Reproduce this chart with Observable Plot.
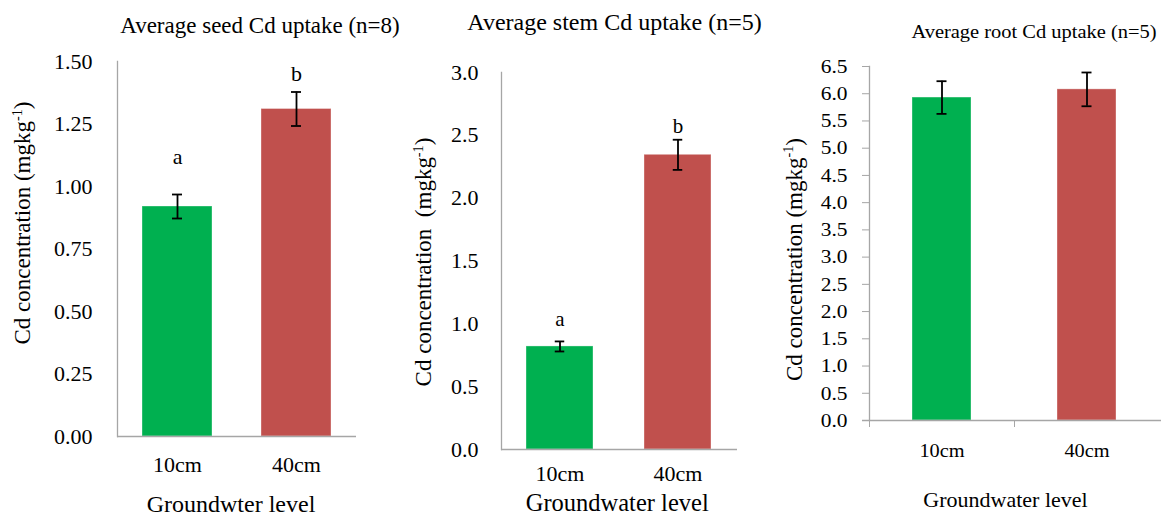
<!DOCTYPE html>
<html><head><meta charset="utf-8">
<script src="https://cdn.jsdelivr.net/npm/d3@7"></script>
<script src="https://cdn.jsdelivr.net/npm/@observablehq/plot@0.6"></script>
<style>
body{margin:0;background:#fff;width:1161px;height:515px;overflow:hidden;position:relative}
.panel{position:absolute;top:0}
.panel svg, .panel svg text{font-family:"Liberation Serif","Times New Roman",serif !important}
</style></head><body>
<div id="p1" class="panel" style="left:0px"></div>
<div id="p2" class="panel" style="left:400px"></div>
<div id="p3" class="panel" style="left:770px"></div>
<script>
const categories = ["10cm", "40cm"];
const barColors = ["#00B050", "#C0504D"];

const seedMean = [0.92, 1.31];
const seedErr = [0.048, 0.068];
const seedLetters = ["a", "b"];
const seedLetterY = [1.12, 1.45];
const seedTicks = [0, 0.25, 0.5, 0.75, 1.0, 1.25, 1.5];

const stemMean = [0.82, 2.345];
const stemErr = [0.04, 0.12];
const stemLetters = ["a", "b"];
const stemLetterY = [1.04, 2.57];
const stemTicks = [0, 0.5, 1.0, 1.5, 2.0, 2.5, 3.0];

const rootMean = [5.93, 6.08];
const rootErr = [0.30, 0.31];
const rootTicks = [0, 0.5, 1.0, 1.5, 2.0, 2.5, 3.0, 3.5, 4.0, 4.5, 5.0, 5.5, 6.0, 6.5];

const titles = ["Average seed Cd uptake (n=8)", "Average stem Cd uptake (n=5)", "Average root Cd uptake (n=5)"];
const yLabels = ["Cd concentration (mgkg\u207B\u00B9)", "Cd concentration \u00A0(mgkg\u207B\u00B9)", "Cd concentration (mgkg\u207B\u00B9)"];
const xLabels = ["Groundwter level", "Groundwater level", "Groundwater level"];

const AXIS = "#a6a6a6";
const FONT = "Liberation Serif";
const SUP = "\u207B\u00B9";

function panel(containerId, cfg) {
  const data = categories.map((c, i) => ({
    cat: c,
    mean: cfg.mean[i],
    lo: cfg.mean[i] - cfg.err[i],
    hi: cfg.mean[i] + cfg.err[i],
    letter: cfg.letters ? cfg.letters[i] : null,
    ly: cfg.letterY ? cfg.letterY[i] : null
  }));
  const marks = [
    Plot.barY(data, {x: "cat", y: "mean", fill: "cat", stroke: "#ffffff", strokeOpacity: 0.35, strokeWidth: 1}),
    Plot.ruleX(data, {x: "cat", y1: "lo", y2: "hi", stroke: "#000", strokeWidth: 1.8}),
    Plot.tickY(data, {x: "cat", y: "lo", stroke: "#000", strokeWidth: 1.8, insetLeft: cfg.capInset, insetRight: cfg.capInset}),
    Plot.tickY(data, {x: "cat", y: "hi", stroke: "#000", strokeWidth: 1.8, insetLeft: cfg.capInset, insetRight: cfg.capInset}),
    Plot.frame({anchor: "left", stroke: AXIS, strokeWidth: 1.3}),
    Plot.ruleY([0], {stroke: AXIS, strokeWidth: 1.3, insetLeft: cfg.baseInsetLeft || 0, insetRight: cfg.baseInsetRight || 0}),
    Plot.axisY({ticks: cfg.ticks, tickFormat: d3.format(cfg.fmt), tickSize: cfg.yTickSize, tickPadding: cfg.yTickPadding, stroke: AXIS, fontSize: cfg.tickFont, fontFamily: FONT, label: null}),
    Plot.axisX({tickSize: 0, tickPadding: cfg.xTickPadding, fontSize: cfg.xTickFont, fontFamily: FONT, label: null}),
    Plot.text([cfg.title], {frameAnchor: "top", lineAnchor: "middle", dx: cfg.titleDx, dy: cfg.titleDy, fontSize: cfg.titleFont, fontFamily: FONT}),
    Plot.text([cfg.yLabel], {frameAnchor: "left", lineAnchor: "middle", rotate: -90, dx: cfg.yLabelDx, dy: cfg.yLabelDy, fontSize: cfg.yLabelFont, fontFamily: FONT}),
    Plot.text([cfg.xLabel], {frameAnchor: "bottom", lineAnchor: "middle", dx: cfg.xLabelDx, dy: cfg.xLabelDy, fontSize: cfg.xLabelFont, fontFamily: FONT})
  ];
  if (cfg.letters) marks.push(Plot.text(data, {x: "cat", y: "ly", text: "letter", fontSize: cfg.letterFont, fontFamily: FONT}));
  if (cfg.xTickMarks) marks.push(Plot.axisX({tickSize: 7, stroke: AXIS, tickFormat: () => "", dx: cfg.xTickDx, label: null}));
  const svg = Plot.plot({
    width: cfg.width,
    height: 515,
    marginLeft: cfg.ml,
    marginRight: cfg.mr,
    marginTop: cfg.mt,
    marginBottom: cfg.mb,
    style: {fontFamily: FONT, color: "#000", background: "transparent", overflow: "visible"},
    x: {domain: categories, paddingInner: cfg.pi, paddingOuter: cfg.pi / 2, align: 0.5, axis: null},
    y: {domain: cfg.domain, axis: null},
    color: {domain: categories, range: barColors},
    marks
  });
  document.getElementById(containerId).append(svg);
  const root = d3.select(svg);
  // slight horizontal stretch of horizontal text (as in the reference)
  if (cfg.stretch && cfg.stretch !== 1) {
    root.selectAll("text").each(function() {
      const tr = this.getAttribute("transform") || "";
      if (tr.includes("rotate")) return;
      this.setAttribute("transform", tr + ` scale(${cfg.stretch},1)`);
    });
  }
  // superscript in the y-axis label, then re-centre it along its axis
  root.selectAll("text").filter(function() { return this.textContent === cfg.yLabel; }).each(function() {
    const t = d3.select(this);
    const fs = cfg.yLabelFont;
    const parts = cfg.yLabel.split(SUP);
    t.text(null);
    t.append("tspan").text(parts[0]);
    t.append("tspan").attr("dy", -0.38 * fs).attr("font-size", 0.62 * fs).text("-1");
    t.append("tspan").attr("dy", 0.38 * fs).text(parts[1]);
    t.attr("text-anchor", "start");
    const len = this.getComputedTextLength();
    t.attr("x", -len / 2);
  });
  return svg;
}

panel("p1", {
  width: 400, ml: 117, mr: 44, mt: 61, mb: 79, pi: 0.414, capInset: 30,
  mean: seedMean, err: seedErr, letters: seedLetters, letterY: seedLetterY,
  domain: [0, 1.5], ticks: seedTicks, fmt: ".2f", yTickSize: 0, yTickPadding: 25, tickFont: 22,
  xTickPadding: 20, xTickFont: 22, letterFont: 22,
  title: titles[0], titleDx: 23, titleDy: -35.5, titleFont: 23,
  yLabel: yLabels[0], yLabelDx: -94.5, yLabelDy: -26, yLabelFont: 23,
  xLabel: xLabels[0], xLabelDx: -6, xLabelDy: 68, xLabelFont: 24
});

panel("p2", {
  width: 370, ml: 101, mr: 33, mt: 72, mb: 66, pi: 0.428, capInset: 28.75,
  mean: stemMean, err: stemErr, letters: stemLetters, letterY: stemLetterY,
  domain: [0, 3], ticks: stemTicks, fmt: ".1f", yTickSize: 0, yTickPadding: 23, tickFont: 22,
  xTickPadding: 15.5, xTickFont: 22, letterFont: 21,
  title: titles[1], titleDx: -5, titleDy: -50.5, titleFont: 24,
  yLabel: yLabels[1], yLabelDx: -77.5, yLabelDy: 1, yLabelFont: 23,
  xLabel: xLabels[1], xLabelDx: -2.3, xLabelDy: 53.5, xLabelFont: 24.5
});

panel("p3", {
  width: 391, ml: 99, mr: 2, mt: 66, mb: 95, pi: 0.593, capInset: 24.5, stretch: 1.1,
  mean: rootMean, err: rootErr,
  domain: [0, 6.5], ticks: rootTicks, fmt: ".1f", yTickSize: 7, yTickPadding: 15, tickFont: 19.5,
  xTickPadding: 23, xTickFont: 18.5, xTickMarks: true, xTickDx: -72.5,
  baseInsetLeft: -7, baseInsetRight: -2,
  title: titles[2], titleDx: 19.5, titleDy: -34.5, titleFont: 18.6,
  yLabel: yLabels[2], yLabelDx: -75, yLabelDy: 16, yLabelFont: 23,
  xLabel: xLabels[2], xLabelDx: -9, xLabelDy: 80, xLabelFont: 20
});
</script>
</body></html>
